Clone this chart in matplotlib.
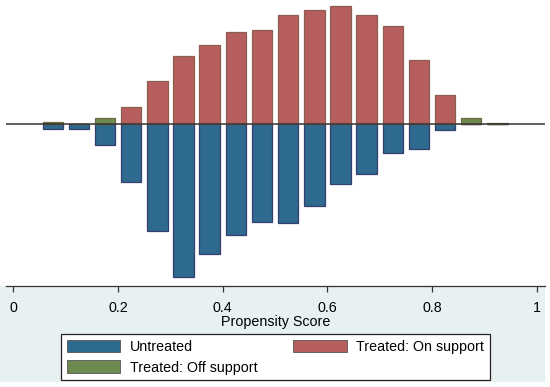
import numpy as np
import matplotlib.pyplot as plt
from matplotlib.patches import Patch, Rectangle

plt.rcParams['font.family'] = ['Liberation Sans', 'DejaVu Sans']

# bin centres of the propensity score histogram
bins = [0.075, 0.125, 0.175, 0.225, 0.275, 0.325, 0.375, 0.425, 0.475,
        0.525, 0.575, 0.625, 0.675, 0.725, 0.775, 0.825, 0.875, 0.925]
# frequencies (treated drawn upward, untreated downward)
untreated = [5, 5, 21, 58, 107, 153, 130, 111, 98, 99, 82, 60, 50, 29, 25, 6, 0, 0]
treated_on = [0, 0, 0, 17, 43, 68, 79, 92, 94, 109, 114, 118, 109, 98, 64, 29, 0, 0]
treated_off = [1.4, 0, 6, 0, 0, 0, 0, 0, 0, 0, 0, 0, 0, 0, 0, 0, 6, 1]

xticks = [0, 0.2, 0.4, 0.6, 0.8, 1]
xticklabels = ["0", "0.2", "0.4", "0.6", "0.8", "1"]

c_blue, e_blue = '#2E6A8E', '#343F6E'
c_red, e_red = '#B65D5E', '#8B5E4E'
c_green, e_green = '#6F8A4E', '#6E6A45'

fig = plt.figure(figsize=(5.5, 3.87), dpi=100)
fig.patch.set_facecolor('white')
# graph region background (only visible below the plot region)
bg = Rectangle((0, 5/387), 545/550, 96/387, transform=fig.transFigure,
               facecolor='#E8F1F2', edgecolor='none', zorder=-10)
fig.add_artist(bg)

ax = fig.add_axes([5.7/550, 101/387, (545-5.7)/550, 286/387])
ax.set_zorder(1)
ax.set_facecolor('white')

w = 0.039
ax.bar(bins, [-v for v in untreated], width=w, color=c_blue, edgecolor=e_blue, linewidth=0.9)
ax.bar(bins, treated_on, width=w, color=c_red, edgecolor=e_red, linewidth=0.9)
off = [v if v > 0 else np.nan for v in treated_off]
ax.bar(bins, off, width=w, color=c_green, edgecolor=e_green, linewidth=0.9)
ax.axhline(0, color='#333333', linewidth=1.1, zorder=5)

ax.set_xlim(-0.0149, 1.0159)
ax.set_ylim(-162.3, 123.7)
ax.set_yticks([])
for s in ['top', 'right', 'left']:
    ax.spines[s].set_visible(False)
ax.spines['bottom'].set_color('#333333')
ax.spines['bottom'].set_linewidth(0.9)
ax.set_xticks(xticks)
ax.set_xticklabels(xticklabels)
ax.tick_params(axis='x', direction='out', length=4, width=0.9, color='#333333',
               pad=7, labelsize=10.3)
ax.set_xlabel("Propensity Score", fontsize=10.3, labelpad=0)

handles = [Patch(facecolor=c_blue, edgecolor='#555555', linewidth=0.6, label='Untreated'),
           Patch(facecolor=c_green, edgecolor='#555555', linewidth=0.6, label='Treated: Off support'),
           Patch(facecolor=c_red, edgecolor='#555555', linewidth=0.6, label='Treated: On support')]
leg = fig.legend(handles=handles, ncol=2, loc='upper left',
                 bbox_to_anchor=(61/550, 1 - 334/387), bbox_transform=fig.transFigure,
                 borderaxespad=0, fontsize=10.3, handlelength=3.75, handleheight=0.97,
                 handletextpad=0.65, columnspacing=2.5, labelspacing=0.45,
                 borderpad=0.4, fancybox=False, framealpha=1)
leg.set_zorder(2)
leg.get_frame().set_edgecolor('#222222')
leg.get_frame().set_linewidth(0.9)

fig.savefig('out.png', dpi=100, facecolor=fig.get_facecolor())
